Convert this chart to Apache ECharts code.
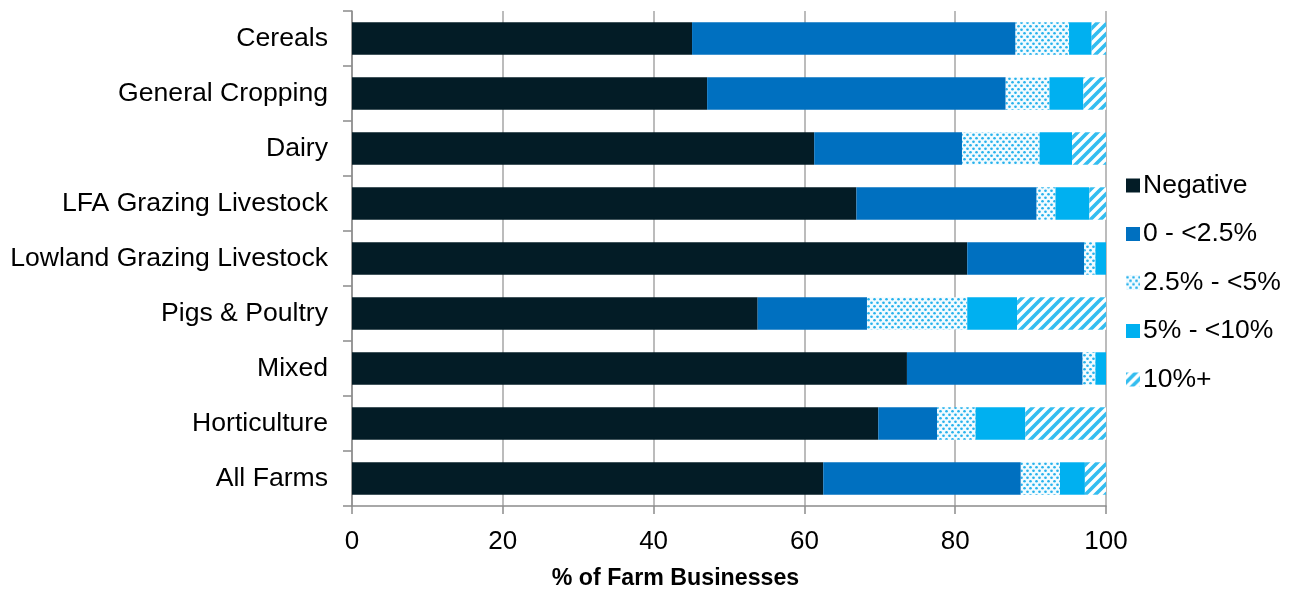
<!DOCTYPE html>
<html>
<head>
<meta charset="utf-8">
<script src="https://cdn.jsdelivr.net/npm/echarts@6/dist/echarts.min.js"></script>
<style>
html,body{margin:0;padding:0;background:#fff;}
#chart{width:1292px;height:590px;}
</style>
</head>
<body>
<div id="chart"></div>
<script>
const categories = ['Cereals','General Cropping','Dairy','LFA Grazing Livestock','Lowland Grazing Livestock','Pigs & Poultry','Mixed','Horticulture','All Farms'];
const seriesNames = ['Negative','0 - <2.5%','2.5% - <5%','5% - <10%','10%+'];
const negative   = [45.1, 47.1, 61.3, 66.9, 81.6, 53.8, 73.6, 69.8, 62.5];
const zeroTo2_5  = [42.9, 39.6, 19.6, 23.9, 15.5, 14.5, 23.3, 7.8, 26.2];
const p2_5To5    = [7.1, 5.8, 10.3, 2.5, 1.5, 13.3, 1.7, 5.1, 5.2];
const p5To10     = [3.0, 4.5, 4.3, 4.5, 1.4, 6.6, 1.4, 6.6, 3.3];
const p10Plus    = [1.9, 3.0, 4.5, 2.2, 0.0, 11.8, 0.0, 10.7, 2.8];
const xTicks = [0, 20, 40, 60, 80, 100];

function dotPattern(){
  const w = 6, h = 7;
  const c = document.createElement('canvas');
  c.width = w; c.height = h;
  const g = c.getContext('2d');
  g.fillStyle = '#f2fbff';
  g.fillRect(0,0,w,h);
  g.fillStyle = '#27b2ec';
  [[1.5,1.75],[4.5,5.25]].forEach(p=>{
    g.beginPath(); g.arc(p[0],p[1],1.35,0,Math.PI*2); g.fill();
  });
  return c;
}
function stripePattern(){
  const s = 10;
  const c = document.createElement('canvas');
  c.width = s; c.height = s;
  const g = c.getContext('2d');
  g.fillStyle = '#ffffff';
  g.fillRect(0,0,s,s);
  g.strokeStyle = '#33bdf0';
  g.lineWidth = 3.6;
  g.beginPath();
  g.moveTo(-s/2, s/2); g.lineTo(s/2, -s/2);
  g.moveTo(0, s); g.lineTo(s, 0);
  g.moveTo(s/2, s*1.5); g.lineTo(s*1.5, s/2);
  g.stroke();
  return c;
}

const colors = [
  '#031c26',
  '#0070c0',
  {image: dotPattern(), repeat: 'repeat'},
  '#00b0f0',
  {image: stripePattern(), repeat: 'repeat'}
];
const values = [negative, zeroTo2_5, p2_5To5, p5To10, p10Plus];

const chart = echarts.init(document.getElementById('chart'), null, {renderer:'canvas'});
const font = 'Liberation Sans, Arial, sans-serif';
chart.setOption({
  animation: false,
  backgroundColor: '#fff',
  textStyle: {fontFamily: font},
  grid: {left: 352, right: 186, top: 11, bottom: 84, containLabel: false, outerBoundsMode: 'none'},
  legend: {
    orient: 'vertical',
    left: 1121,
    top: 167,
    itemWidth: 14,
    itemHeight: 14,
    itemGap: 21.5,
    icon: 'rect',
    textStyle: {fontSize: 26.5, color: '#000', fontFamily: font, lineHeight: 27, padding: [0,0,0,-2]},
    data: seriesNames
  },
  xAxis: {
    type: 'value',
    min: 0, max: 100, interval: 20,
    name: '% of Farm Businesses',
    nameLocation: 'middle',
    nameGap: 61,
    nameTextStyle: {fontSize: 23.2, fontWeight: 'bold', color: '#000', fontFamily: font, padding: [0,107,0,0]},
    axisLine: {show: true, lineStyle: {color: '#8c8c8c', width: 1.5}},
    axisTick: {show: true, length: 8, lineStyle: {color: '#8c8c8c', width: 1.5}},
    axisLabel: {fontSize: 26, color: '#000', margin: 23, fontFamily: font,
      formatter: v => xTicks.includes(v) ? String(v) : ''},
    splitLine: {show: true, lineStyle: {color: '#a6a6a6', width: 1.5}}
  },
  yAxis: {
    type: 'category',
    inverse: true,
    data: categories,
    axisLine: {show: true, lineStyle: {color: '#8c8c8c', width: 1.5}},
    axisTick: {show: true, length: 9, lineStyle: {color: '#8c8c8c', width: 1.5}},
    axisLabel: {fontSize: 26.6, color: '#000', margin: 24, fontFamily: font, padding: [4,0,0,0]}
  },
  series: seriesNames.map((n,i)=>({
    name: n,
    type: 'bar',
    stack: 'total',
    barCategoryGap: '41%',
    data: values[i],
    itemStyle: {color: colors[i]}
  }))
});
</script>
</body>
</html>
